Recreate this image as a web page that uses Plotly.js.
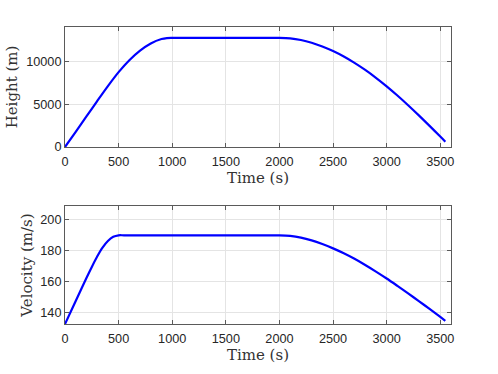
<!DOCTYPE html>
<html>
<head>
<meta charset="utf-8">
<script src="https://cdn.plot.ly/plotly-3.0.1.min.js"></script>
<style>
  html, body { margin: 0; padding: 0; background: #fff; }
  #chartplot { width: 498px; height: 374px; }
</style>
</head>
<body>
<div id="chartplot"></div>
<script>
// time samples (s)
const timeH = [0, 100, 200, 300, 400, 500, 600, 700, 800, 900, 950, 1000, 1050, 1500, 1950, 2000,
  2100, 2200, 2300, 2400, 2500, 2600, 2700, 2800, 2900, 3000, 3100, 3200, 3300, 3400, 3500, 3547];
// height (m)
const height = [0, 1780, 3580, 5380, 7140, 8780, 10180, 11310, 12150, 12670, 12785, 12800, 12800, 12800, 12800, 12800,
  12740, 12550, 12230, 11790, 11250, 10610, 9870, 9040, 8120, 7120, 6040, 4900, 3710, 2480, 1220, 618];

const timeV = [0, 100, 200, 250, 300, 350, 400, 450, 500, 550, 1000, 1500, 1950, 2000,
  2100, 2200, 2300, 2400, 2500, 2600, 2700, 2800, 2900, 3000, 3100, 3200, 3300, 3400, 3500, 3547];
// velocity (m/s)
const velocity = [132.3, 147.3, 162.2, 169.4, 176.2, 182, 186.3, 189, 190, 190, 190, 190, 190, 190,
  189.6, 188.5, 186.7, 184.3, 181.5, 178.3, 174.7, 170.7, 166.4, 161.9, 157.1, 152.2, 147.2, 142.1, 136.9, 134.4];

const xTicks = [0, 500, 1000, 1500, 2000, 2500, 3000, 3500];
const hTicks = [0, 5000, 10000];
const vTicks = [140, 160, 180, 200];

const axisCol = '#5a5a5a';
const gridCol = '#e4e4e4';
const tickFont = { family: 'Liberation Sans, Arial, sans-serif', size: 12.7, color: '#262626' };
const titleFont = { family: 'DejaVu Serif, serif', size: 15, color: '#333333' };

function xAxis(anchor, standoff) {
  return {
    anchor: anchor,
    range: [0, 3600],
    tickvals: xTicks,
    ticktext: xTicks.map(String),
    ticks: 'inside', ticklen: 4, tickcolor: axisCol,
    ticklabelstandoff: 3,
    showline: true, linecolor: axisCol, linewidth: 1, mirror: 'ticks',
    showgrid: true, gridcolor: gridCol, zeroline: false,
    tickfont: tickFont,
    title: { text: 'Time (s)', font: titleFont, standoff: standoff },
  };
}

function yAxis(anchor, dom, range, ticks, label) {
  return {
    anchor: anchor,
    domain: dom,
    range: range,
    tickvals: ticks,
    ticktext: ticks.map(String),
    ticks: 'inside', ticklen: 4, tickcolor: axisCol,
    showline: true, linecolor: axisCol, linewidth: 1, mirror: 'ticks',
    showgrid: true, gridcolor: gridCol, zeroline: false,
    tickfont: tickFont,
    title: { text: label, font: titleFont, standoff: 4 },
  };
}

const lineStyle = { color: '#0000ff', width: 2.2, shape: 'spline', smoothing: 0.8 };

const data = [
  { type: 'scatter', mode: 'lines', x: timeH, y: height, xaxis: 'x', yaxis: 'y', line: lineStyle },
  { type: 'scatter', mode: 'lines', x: timeV, y: velocity, xaxis: 'x2', yaxis: 'y2', line: lineStyle },
];

const layout = {
  width: 498, height: 374,
  autosize: false,
  showlegend: false,
  paper_bgcolor: '#ffffff',
  plot_bgcolor: '#ffffff',
  margin: { l: 65, r: 47, t: 27, b: 50 },
  xaxis: xAxis('y', 2),
  yaxis: yAxis('x', [0.596, 1], [0, 14080], hTicks, 'Height (m)'),
  xaxis2: xAxis('y2', 0),
  yaxis2: yAxis('x2', [0, 0.397], [132.3, 209], vTicks, 'Velocity (m/s)'),
};

Plotly.newPlot('chartplot', data, layout, { staticPlot: true });
</script>
</body>
</html>
